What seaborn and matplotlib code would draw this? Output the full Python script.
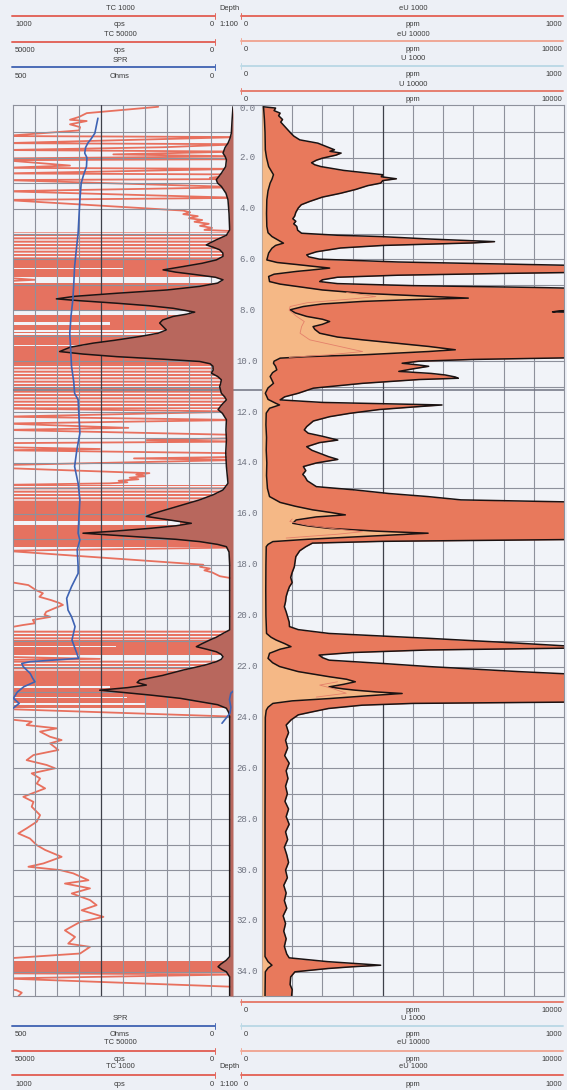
import numpy as np
import pandas as pd
import matplotlib
matplotlib.use("Agg")
import matplotlib.pyplot as plt
import matplotlib.transforms as mtrans
from matplotlib.lines import Line2D
import seaborn as sns

# ---- values (depth in m) ----
# TC 50000 : total count, cps, 0..50000 (reversed scale)
tc50k_depth = [0.00, 0.50, 1.04, 1.25, 1.43, 1.60, 1.82, 1.95, 2.08, 2.35, 2.60, 2.87, 3.00, 3.13, 3.40, 3.66,
               4.20, 4.84, 5.05, 5.23, 5.35, 5.43, 5.52, 5.62, 5.75, 5.88, 6.02, 6.15, 6.28, 6.41, 6.50, 6.60,
               6.70, 6.80, 6.93, 7.06, 7.20, 7.33, 7.45, 7.55, 7.62, 7.72, 7.82, 7.92, 8.07, 8.15, 8.24, 8.38,
               8.50, 8.62, 8.77, 8.90, 9.03, 9.18, 9.29, 9.45, 9.62, 9.72, 9.82, 9.92, 10.01, 10.10, 10.20,
               10.35, 10.47, 10.60, 10.73, 10.87, 11.00, 11.15, 11.26, 11.40, 11.52, 11.70, 11.90, 12.05,
               12.30, 12.70, 13.10, 13.60, 14.14, 14.50, 14.80, 15.06, 15.25, 15.45, 15.65, 15.84, 15.98,
               16.10, 16.20, 16.30, 16.37, 16.47, 16.57, 16.68, 16.76, 16.82, 16.89, 17.00, 17.09, 17.20,
               17.29, 17.50, 18.00, 20.56, 20.70, 20.85, 20.96, 21.10, 21.22, 21.32, 21.42, 21.52, 21.62,
               21.72, 21.81, 21.95, 22.14, 22.35, 22.53, 22.63, 22.73, 22.83, 22.93, 23.02, 23.12, 23.25,
               23.38, 23.50, 23.64, 23.80, 23.97, 33.40, 33.54, 33.70, 33.80, 33.90, 34.00, 34.20, 34.95]
tc50k_cps = [0, 200, 380, 700, 1140, 1800, 2270, 1800, 1500, 1670, 2600, 3800, 3500, 2650, 1600, 1140,
             900, 760, 1500, 3790, 5200, 6060, 4500, 3030, 2300, 2270, 3790, 7000, 11360, 15900, 13000, 8330,
             4000, 2270, 3500, 7580, 15000, 26500, 36000, 40150, 35000, 26500, 19000, 13600, 8700, 10500, 13600, 16000,
             16670, 16000, 15150, 17000, 21200, 27000, 31800, 37000, 39400, 34000, 26500, 16000, 7580, 5200, 4550,
             4500, 4920, 3500, 2650, 2800, 3030, 2800, 2650, 1900, 1500, 2500, 3400, 2400,
             1500, 1600, 1500, 1650, 1500, 1300, 1140, 2270, 4500, 7580, 11500, 15150, 18000,
             19700, 16000, 12100, 9470, 13000, 18900, 27000, 34100, 29000, 22700, 13000, 7580, 3500,
             1500, 900, 760, 760, 2270, 3800, 5300, 7000, 8330, 6000, 3790, 2700, 2270,
             2700, 3790, 6500, 11360, 16000, 21200, 21800, 19700, 24000, 30300, 25000, 18900, 12000,
             7580, 3500, 1500, 1000, 760, 760, 1500, 2800, 3400, 2600, 1500, 760, 760]

# TC 1000 : same count on the 0..1000 backup scale, traced as drawn (runs = separate pen strokes)
tc1k_run = [0] * 44 + [1] * 3 + [2] * 30 + [3] * 9 + [4] * 16 + [5] * 3 + [6] * 2 + [7] * 48 + [8] * 4 + [9] * 4
tc1k_depth = [0.00, 0.25, 0.40, 0.51, 0.56, 0.69, 0.80, 0.93, 1.15, 1.19, 1.43, 1.47, 1.59, 1.70, 1.76, 1.87,
              1.95, 2.03, 2.06, 2.10, 2.31, 2.40, 2.44, 2.62, 2.66, 2.79, 2.84, 2.88, 3.16, 3.32, 3.58, 3.66,
              4.08, 4.15, 4.22, 4.30, 4.38, 4.45, 4.52, 4.60, 4.68, 4.76, 4.84, 4.90,
              6.72, 6.80, 6.86,
              11.86, 11.98, 12.18, 12.31, 12.45, 12.62, 12.70, 12.90, 13.02, 13.10, 13.16, 13.22, 13.38,
              13.45, 13.50, 13.62, 13.76, 13.82, 13.88, 14.08, 14.20, 14.40, 14.46, 14.52, 14.58, 14.64,
              14.70, 14.76, 14.80, 14.86,
              17.32, 17.45, 18.00, 18.08, 18.15, 18.22, 18.30, 18.45, 18.60,
              18.64, 18.80, 19.00, 19.12, 19.26, 19.39, 19.50, 19.58, 19.71, 19.85, 19.97, 20.05, 20.17,
              20.30, 20.37, 20.50,
              21.62, 21.70, 21.74,
              23.67, 23.98,
              24.06, 24.10, 24.17, 24.30, 24.43, 24.56, 24.76, 24.89, 25.02, 25.28, 25.48, 25.68, 25.87,
              26.00, 26.20, 26.40, 26.60, 26.79, 27.12, 27.32, 27.51, 27.84, 28.10, 28.36, 28.56, 28.76,
              29.02, 29.21, 29.48, 29.74, 29.87, 30.00, 30.13, 30.40, 30.53, 30.72, 30.92, 31.18, 31.38,
              31.58, 31.84, 32.04, 32.37, 32.63, 32.89, 33.02, 33.28, 33.48,
              34.06, 34.10, 34.26, 34.60,
              34.66, 34.72, 34.82, 34.95]
tc1k_cps = [340, 665, 700, 741, 665, 741, 695, 700, 1040, -40, 1040, -40, 317, 1040, -40, 544,
            -40, 1040, -40, 1040, 741, 1040, -40, 1040, -40, 105, -40, 1040, -40, 1040, -40, 1040,
            226, 195, 226, 160, 200, 140, 175, 110, 150, 95, 130, -40,
            1040, 900, 1040,
            1040, -40, 1040, -40, 1040, 476, 1040, -40, -40, 392, -40, 1040, 1040,
            605, 1040, -40, -40, 450, -40, 1040, 1040, 380, 440, 400, 470, 430,
            520, 480, 560, 1040,
            -40, 1040, 135, 150, 105, 130, 95, 60, -40,
            1040, 930, 895, 864, 880, 827, 790, 773, 811, 849, 857, 830, 910,
            900, 955, 1040,
            1040, 605, 1040,
            1040, -40,
            1040, 991, 915, 938, 801, 877, 832, 779, 832, 794, 907, 938, 847,
            809, 915, 877, 892, 854, 953, 907, 915, 877, 892, 938, 976, 923,
            892, 854, 779, 862, 930, 786, 726, 657, 764, 650, 733, 650, 620,
            688, 589, 695, 764, 718, 749, 650, 695, 1040,
            1040, -40, 1040, -40,
            1040, 985, 960, 975]
# depth intervals where the wrapped TC 1000 pen saturates the track
tc1k_solid_top = [6.02, 6.93, 15.48, 20.95, 22.18, 33.57]
tc1k_solid_bot = [6.68, 10.12, 17.32, 21.55, 23.65, 34.05]
tc1k_streak_top = [4.93, 10.12, 14.86, 20.56, 21.76]
tc1k_streak_bot = [6.02, 11.86, 15.48, 20.95, 22.18]
# pale gaps inside the saturated intervals: from the left edge to cps
tc1k_gap_top = [6.32, 8.04, 8.44, 8.76, 8.88, 9.36, 16.30, 21.20, 22.78, 23.18, 23.45]
tc1k_gap_bot = [6.36, 8.17, 8.56, 8.84, 8.97, 9.41, 16.42, 21.25, 22.83, 23.22, 23.50]
tc1k_gap_cps = [500, 180, 560, 290, 290, 500, 240, 530, 560, 480, 400]

# SPR : single point resistance, Ohms, 0..500 (reversed)
spr_run = [0] * 56 + [1] * 6
spr_depth = [0.45, 0.70, 1.04, 1.25, 1.43, 1.60, 1.82, 2.00, 2.35, 2.70, 3.00, 3.66, 4.30, 4.97, 5.60, 6.28,
             7.00, 7.59, 8.20, 8.90, 9.50, 10.20, 10.80, 11.26, 11.52, 12.20, 12.83, 13.50, 14.14, 14.80,
             15.45, 16.10, 16.76, 17.03, 17.40, 18.07, 18.34, 18.86, 19.32, 19.78, 20.04, 20.43, 20.96,
             21.48, 21.68, 21.81, 21.88, 22.00, 22.27, 22.47, 22.60, 22.79, 23.00, 23.25, 23.45, 23.71,
             22.90, 23.05, 23.30, 23.60, 23.84, 24.23]
spr_ohm = [307, 310, 314, 322, 330, 335, 337, 332, 333, 340, 345, 348, 350, 352, 356, 360,
           362, 364, 368, 371, 369, 367, 362, 360, 352, 350, 348, 355, 360, 352,
           348, 350, 352, 348, 354, 352, 352, 367, 378, 375, 367, 359, 366,
           355, 351, 461, 480, 477, 461, 455, 450, 475, 490, 499, 486, 505,
           -5, 5, 8, 5, 7, 25]

# eU 1000 : ppm, 0..1000
eu1k_depth = [0.00, 0.05, 0.15, 0.25, 0.35, 0.50, 0.60, 0.77, 0.90, 1.03, 1.15, 1.30, 1.43, 1.55, 1.69, 1.75,
              1.82, 1.90, 2.02, 2.10, 2.20, 2.28, 2.35, 2.50, 2.67, 2.75, 2.83, 2.90, 3.00, 3.10, 3.25, 3.40,
              3.55, 3.72, 3.85, 3.98, 4.15, 4.30, 4.40, 4.50, 4.60, 4.70, 4.85, 4.97, 5.05, 5.10, 5.20, 5.30,
              5.35, 5.45, 5.55, 5.70, 5.82, 5.90, 5.99, 6.10, 6.18, 6.25, 6.50, 6.55, 6.62, 6.70, 6.80, 6.87,
              6.95, 7.03, 7.10, 7.15, 7.98, 8.02, 8.06, 8.10, 9.85, 9.93, 10.00, 10.08, 10.15, 10.20, 10.30,
              10.40, 10.48, 10.54, 10.62, 10.67, 10.72, 10.87, 11.06, 11.26, 11.40, 11.52, 11.62, 11.72,
              11.80, 11.90, 12.05, 12.18, 12.35, 12.57, 12.70, 12.83, 12.95, 13.10, 13.20, 13.36, 13.50,
              13.62, 13.75, 13.86, 14.00, 14.14, 14.30, 14.45, 14.54, 14.70, 14.93, 15.06, 15.20, 15.32,
              15.45, 15.55, 17.00, 17.08, 17.15, 17.29, 17.45, 17.68, 17.85, 18.08, 18.30, 18.50, 18.70,
              18.86, 19.05, 19.25, 19.45, 19.65, 19.85, 20.05, 20.25, 20.43, 20.55, 20.70, 20.89, 21.05,
              21.22, 21.28, 21.35, 21.45, 21.55, 21.65, 21.75, 21.88, 22.00, 22.20, 22.34, 23.39, 23.45,
              23.52, 23.65, 23.78, 23.90, 24.10, 24.30, 24.60, 24.90, 25.20, 25.50, 25.80, 26.10, 26.40,
              26.70, 27.00, 27.30, 27.60, 27.90, 28.20, 28.50, 28.80, 29.10, 29.40, 29.70, 30.00, 30.30,
              30.60, 30.90, 31.20, 31.50, 31.80, 32.10, 32.40, 32.70, 33.00, 33.30, 33.45, 33.60, 33.74,
              33.80, 33.87, 34.00, 34.20, 34.50, 34.70, 34.95]
eu1k_ppm = [5, 45, 40, 60, 55, 68, 62, 75, 85, 95, 105, 125, 185, 210, 240, 225,
            262, 245, 200, 180, 164, 175, 195, 270, 400, 395, 445, 400, 393, 350, 310, 260,
            200, 158, 130, 120, 112, 108, 102, 112, 105, 115, 118, 131, 250, 390, 560, 770,
            700, 400, 260, 180, 148, 155, 191, 450, 800, 1100, 1100, 800, 450, 250, 200, 191,
            250, 500, 900, 1100, 1100, 985, 962, 1100, 1100, 700, 520, 464, 520, 552, 500,
            453, 560, 606, 640, 650, 520, 333, 170, 120, 75, 60, 200, 596,
            500, 388, 290, 224, 170, 148, 140, 153, 200, 251, 190, 148, 165,
            191, 220, 251, 180, 137, 145, 135, 142, 150, 180, 309, 420, 549,
            659, 1100, 1100, 400, 167, 145, 125, 112, 110, 107, 100, 95, 100,
            91, 85, 80, 78, 74, 80, 85, 90, 91, 120, 222, 550, 800,
            1050, 1000, 550, 300, 189, 200, 222, 400, 550, 850, 1100, 1100, 500,
            331, 220, 167, 120, 96, 80, 88, 78, 85, 75, 90, 80, 86,
            78, 84, 76, 88, 80, 90, 78, 85, 74, 82, 88, 78, 84,
            72, 80, 74, 82, 70, 78, 72, 80, 74, 82, 90, 218, 393,
            300, 218, 109, 95, 93, 100, 98]

# eU 10000 : ppm, 0..10000
eu10k_depth = [0.00, 0.50, 1.00, 1.69, 2.00, 2.35, 2.67, 2.85, 3.00, 3.30, 3.66, 4.20, 4.70, 4.95, 5.10, 5.25,
               5.36, 5.45, 5.56, 5.75, 6.02, 6.12, 6.20, 6.34, 6.42, 6.47, 6.58, 6.67, 6.87, 6.97, 7.06, 7.20,
               7.33, 7.45, 7.52, 7.58, 7.65, 7.75, 7.85, 7.98, 8.10, 8.24, 8.35, 8.44, 8.55, 8.64, 8.75, 8.90,
               9.05, 9.16, 9.30, 9.42, 9.55, 9.62, 9.75, 9.82, 9.88, 10.00, 10.08, 10.20, 10.34, 10.45, 10.60,
               10.75, 10.87, 11.05, 11.26, 11.50, 11.65, 11.72, 11.85, 12.04, 12.50, 13.00, 13.50, 14.00,
               14.50, 15.00, 15.32, 15.55, 15.70, 15.84, 15.95, 16.04, 16.12, 16.24, 16.37, 16.47, 16.57,
               16.68, 16.76, 16.82, 16.89, 17.00, 17.09, 17.20, 17.29, 18.00, 19.00, 20.00, 20.70, 20.85,
               20.96, 21.10, 21.22, 21.32, 21.48, 21.68, 21.85, 22.00, 22.20, 22.40, 22.50, 22.60, 22.70,
               22.80, 22.88, 22.93, 23.00, 23.06, 23.15, 23.26, 23.35, 23.45, 23.60, 23.72, 24.00, 28.00,
               33.40, 33.60, 33.74, 33.85, 34.00, 34.95]
eu10k_ppm = [50, 80, 100, 110, 150, 220, 380, 330, 270, 200, 160, 150, 160, 200, 330, 550,
             710, 450, 330, 220, 160, 500, 1150, 2240, 1600, 1150, 400, 220, 250, 600, 1150, 2000,
             3330, 5500, 6830, 5000, 3330, 2000, 1370, 930, 1100, 1480, 2000, 2240, 2000, 1690, 1750, 1910,
             2500, 3330, 4500, 5520, 6400, 5500, 3330, 1500, 600, 400, 380, 450, 490, 350, 270,
             330, 380, 200, 110, 200, 450, 580, 250, 140, 130, 150, 140, 160,
             150, 180, 250, 600, 1100, 1670, 2300, 2760, 1800, 1130, 1020, 1500, 2220,
             3800, 5500, 4500, 3310, 1500, 360, 200, 140, 130, 125, 130, 150, 300,
             470, 750, 960, 600, 250, 200, 350, 580, 1200, 2220, 2800, 3090, 2700,
             2220, 2700, 3090, 3800, 4640, 3500, 2220, 1000, 360, 200, 140, 110, 100,
             100, 200, 330, 200, 110, 100]

# U 10000 : ppm, 0..10000, only where it separates from eU
u10k_run = [0] * 15 + [1] * 7 + [2] * 5
u10k_depth = [7.30, 7.46, 7.55, 7.70, 7.85, 8.00, 8.24, 8.44, 8.64, 8.90, 9.16, 9.42, 9.62, 9.75, 9.85,
              16.20, 16.30, 16.45, 16.60, 16.70, 16.80, 16.95,
              22.60, 22.73, 22.85, 23.05, 23.20]
u10k_ppm = [2800, 3770, 3000, 1500, 930, 900, 1150, 1400, 1310, 1260, 1580, 2570, 3330, 2200, 900,
            1000, 920, 1500, 2500, 3330, 2500, 800,
            2500, 1910, 2300, 2790, 1800]

depth_marks = list(range(0, 35, 2))

# header / footer rows: (title, unit, left value, right value, colour)
left_rows = [("TC 1000", "cps", "1000", "0", "#e2675d"),
             ("TC 50000", "cps", "50000", "0", "#e2675d"),
             ("SPR", "Ohms", "500", "0", "#4b6cb7")]
right_rows = [("eU 1000", "ppm", "0", "1000", "#e46a5e"),
              ("eU 10000", "ppm", "0", "10000", "#f0a896"),
              ("U 1000", "ppm", "0", "1000", "#bcd9e6"),
              ("U 10000", "ppm", "0", "10000", "#e57e70")]

# ---- styling ----
PAGE = "#edf0f6"
TRACK = "#f1f3f8"
GRID = "#8e919c"
DARK = "#3e404a"
RED = "#e8705e"
BROWN = "#b8675d"
ORANGE = "#e8795c"
PEACH = "#f5b886"
BLUE = "#3e63b4"

sns.set_style("white")
plt.rcParams["font.family"] = ["Liberation Sans", "DejaVu Sans"]
plt.rcParams["hatch.linewidth"] = 1.4

W, H = 567, 1090
TOP, BOT = 105, 996
D0, D1 = -0.07, 34.95

fig = plt.figure(figsize=(W / 100, H / 100), dpi=100, facecolor=PAGE)


def box(x0, x1, y0, y1):
    return [x0 / W, 1 - y1 / H, (x1 - x0) / W, (y1 - y0) / H]


def bare(ax):
    ax.set_xticks([])
    ax.set_yticks([])
    ax.set_xlabel("")
    ax.set_ylabel("")


def twin(ax):
    t = ax.twiny()
    bare(t)
    for s in t.spines.values():
        s.set_visible(False)
    t.patch.set_visible(False)
    return t


ax_l = fig.add_axes(box(13, 233, TOP, BOT), facecolor=TRACK)
ax_d = fig.add_axes(box(233, 262, TOP, BOT), facecolor=PAGE)
ax_r = fig.add_axes(box(262, 564, TOP, BOT), facecolor=TRACK)

for ax in (ax_l, ax_d, ax_r):
    for s in ax.spines.values():
        s.set_color(GRID)
        s.set_linewidth(0.8)
ax_d.spines["left"].set_visible(False)
ax_d.spines["right"].set_visible(False)

# ---- left track: TC 1000 wrapped trace, TC 50000 fill, SPR ----
for d in range(1, 35):
    ax_l.axhline(d, color=GRID, lw=0.8, zorder=3)
for v in range(100, 1000, 100):
    ax_l.axvline(v, color=DARK if v == 600 else GRID, lw=0.9 if v == 600 else 0.8, zorder=3)
ax_l.axhline(11.13, color="#6f7280", lw=1.1, zorder=3)

for t, b in zip(tc1k_solid_top, tc1k_solid_bot):
    ax_l.axhspan(t, b, color="#e57260", lw=0, zorder=2)
for t, b in zip(tc1k_streak_top, tc1k_streak_bot):
    ax_l.axhspan(t, b, facecolor="none", edgecolor=RED, hatch="-----", lw=0, zorder=2)
for t, b, c in zip(tc1k_gap_top, tc1k_gap_bot, tc1k_gap_cps):
    ax_l.fill_betweenx([t, b], c, 1040, color=TRACK, lw=0, zorder=2.2)

tc1k = pd.DataFrame({"depth": tc1k_depth, "cps": tc1k_cps, "run": tc1k_run})
sns.lineplot(data=tc1k, x="cps", y="depth", units="run", estimator=None, sort=False,
             color=RED, lw=1.3, legend=False, ax=ax_l, zorder=2.5)

ax_tc = twin(ax_l)
ax_tc.fill_betweenx(tc50k_depth, tc50k_cps, 0, color=BROWN, lw=0, zorder=1)
sns.lineplot(x=tc50k_cps, y=tc50k_depth, sort=False, estimator=None, color="#1c1414", lw=1.1, ax=ax_tc)

ax_spr = twin(ax_l)
spr = pd.DataFrame({"depth": spr_depth, "ohm": spr_ohm, "run": spr_run})
sns.lineplot(data=spr, x="ohm", y="depth", units="run", estimator=None, sort=False,
             color=BLUE, lw=1.2, legend=False, ax=ax_spr)

# ---- right track: eU 1000 / eU 10000 ----
for d in range(1, 35):
    ax_r.axhline(d, color=GRID, lw=0.8, zorder=0.5)
for v in range(100, 1000, 100):
    ax_r.axvline(v, color=DARK if v == 400 else GRID, lw=0.9 if v == 400 else 0.8, zorder=0.5)
ax_r.axhline(11.13, color="#6f7280", lw=1.1, zorder=0.6)

ax_r.fill_betweenx(eu1k_depth, 0, eu1k_ppm, color=ORANGE, lw=0, zorder=1)
sns.lineplot(x=eu1k_ppm, y=eu1k_depth, sort=False, estimator=None, color="#1a1212", lw=1.1, ax=ax_r)

ax_eu = twin(ax_r)
ax_eu.fill_betweenx(eu10k_depth, 0, eu10k_ppm, color=PEACH, lw=0, zorder=1)
sns.lineplot(x=eu10k_ppm, y=eu10k_depth, sort=False, estimator=None, color="#1a1212", lw=1.1, ax=ax_eu)
u10k = pd.DataFrame({"depth": u10k_depth, "ppm": u10k_ppm, "run": u10k_run})
sns.lineplot(data=u10k, x="ppm", y="depth", units="run", estimator=None, sort=False,
             color="#e4806a", lw=0.6, legend=False, ax=ax_eu)

# ---- depth track ----
ax_d.axhline(11.13, color="#6f7280", lw=1.1)
trans = mtrans.blended_transform_factory(ax_d.transAxes, ax_d.transData)
for d in depth_marks:
    ax_d.text(0.5, d + (0.06 if d == 0 else 0), f"{d:.1f}", transform=trans, ha="center", va="center",
              family=["Liberation Mono", "DejaVu Sans Mono"], fontsize=6.5, color="#6f7380", clip_on=True)

# ---- scales ----
ax_l.set_xlim(1000, 0)
ax_tc.set_xlim(50000, 0)
ax_spr.set_xlim(500, 0)
ax_r.set_xlim(0, 1000)
ax_eu.set_xlim(0, 10000)
for ax in (ax_l, ax_d, ax_r):
    ax.set_ylim(D1, D0)
    bare(ax)
ax_d.set_xlim(0, 1)


# ---- header and footer ----
def txt(x, y, s, ha="center"):
    fig.text(x / W, 1 - y / H, s, ha=ha, va="center", fontsize=5.4, color="#3a3a3a")


def scale_line(x0, x1, y, color, tick_x):
    yy = 1 - y / H
    fig.add_artist(Line2D([x0 / W, x1 / W], [yy, yy], color=color, lw=1.4, transform=fig.transFigure))
    fig.add_artist(Line2D([tick_x / W] * 2, [yy - 3 / H, yy + 3 / H], color=color, lw=0.7,
                          transform=fig.transFigure))


def left_entry(row, y_title, y_line, y_vals):
    title, unit, lo, hi, col = row
    txt(120, y_title, title)
    scale_line(12, 215, y_line, col, 215)
    txt(15, y_vals, lo, ha="left")
    txt(120, y_vals, unit)
    txt(214, y_vals, hi, ha="right")


def right_entry(row, y_title, y_line, y_vals, show_title=True):
    title, unit, lo, hi, col = row
    if show_title:
        txt(413, y_title, title)
    scale_line(241, 563, y_line, col, 241)
    txt(244, y_vals, lo, ha="left")
    txt(413, y_vals, unit)
    txt(562, y_vals, hi, ha="right")


# top header
for i, row in enumerate(left_rows):
    y = 9 + 25.5 * i
    left_entry(row, y, y + 7, y + 16)
for i, row in enumerate(right_rows):
    y = 9 + 25 * i
    right_entry(row, y, y + 7, y + 15.5)
txt(229, 9, "Depth")
txt(229, 25, "1:100")

# bottom header (mirrored order; the first right title sits under the tracks)
for i, row in enumerate(left_rows[::-1]):
    y = 1018 + 24.5 * i
    left_entry(row, y, y + 8, y + 17)
for i, row in enumerate(right_rows[::-1]):
    y = 993.5 + 24.5 * i
    right_entry(row, y, y + 8, y + 17, show_title=i > 0)
txt(229, 1067, "Depth")
txt(229, 1084, "1:100")

fig.savefig("out.png", dpi=100, facecolor=PAGE)
